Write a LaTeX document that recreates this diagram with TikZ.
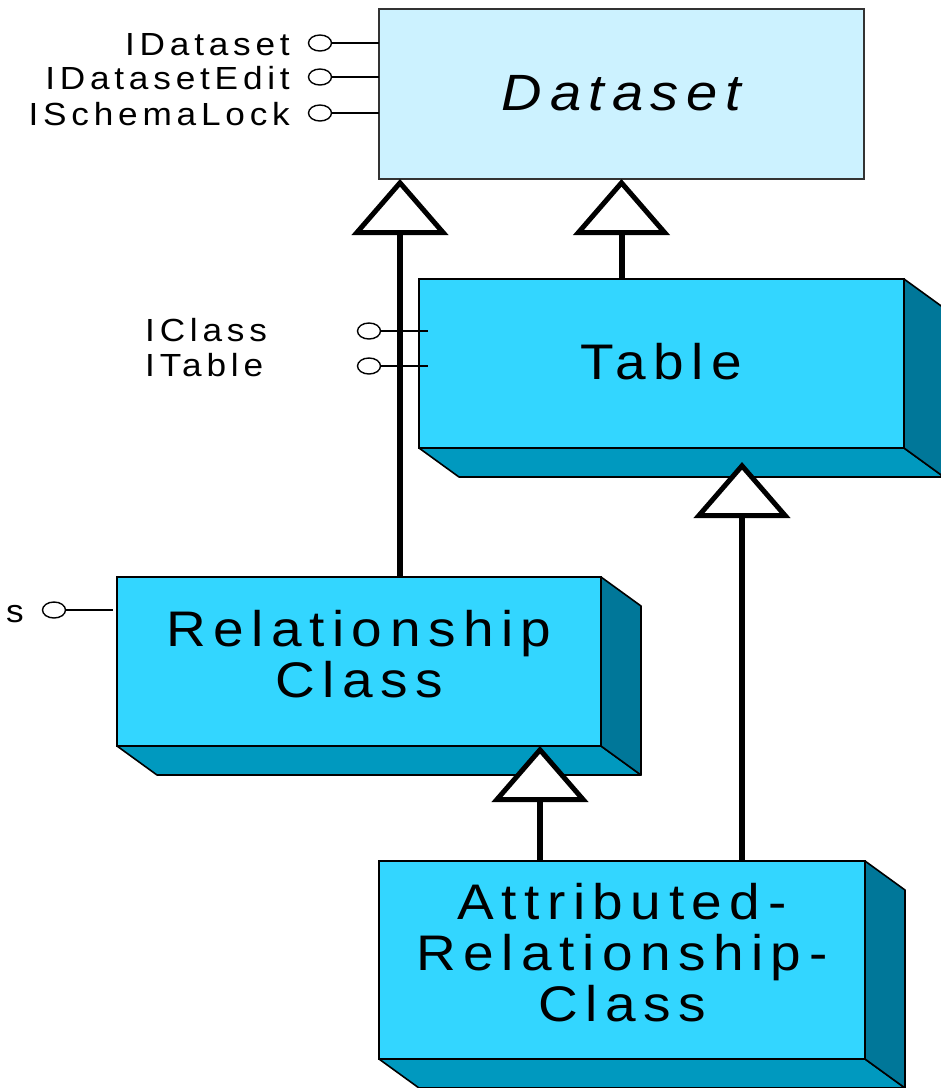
\documentclass[tikz,border=0pt]{standalone}
\usepackage{fontspec}
\setmainfont{Liberation Sans}[LetterSpace=15,FakeStretch=1.1]
\usetikzlibrary{arrows.meta,calc,shapes.geometric}
\definecolor{frontc}{HTML}{33D6FF}
\definecolor{bottomc}{HTML}{0099BF}
\definecolor{sidec}{HTML}{007799}
\definecolor{dsc}{HTML}{CCF2FF}
\newcommand\boxdepth[1]{%
  \filldraw[fill=bottomc, draw=black, line width=1.6pt, line join=round]
    (#1.south west) -- (#1.south east) -- ($(#1.south east)+(40,29)$) -- ($(#1.south west)+(40,29)$) -- cycle;
  \filldraw[fill=sidec, draw=black, line width=1.6pt, line join=round]
    (#1.north east) -- ($(#1.north east)+(40,29)$) -- ($(#1.south east)+(40,29)$) -- (#1.south east) -- cycle;}
\newcommand\uptext[2]{\raisebox{#1}{\begin{tabular}{@{}c@{}}#2\end{tabular}}}
\begin{document}
\begin{tikzpicture}[x=1pt,y=-1pt,
  cls/.style={draw=black, line width=1.6pt, fill=frontc, inner sep=0pt, outer sep=0pt,
    align=center, font=\fontsize{50}{50}\selectfont},
  lolly/.style={ellipse, draw=black, line width=1.4pt, fill=white, minimum width=23pt, minimum height=16pt, inner sep=0pt},
  lbl/.style={inner sep=0pt, font=\fontsize{32}{35}\selectfont},
  lline/.style={line width=1.4pt},
  gen/.style={line width=6pt, -{Triangle[length=56pt, width=96pt, fill=white, line width=5pt]}}]
\useasboundingbox (0,0) rectangle (941,1088);
% Dataset
\node[draw=black!80, line width=1.6pt, fill=dsc, minimum width=485pt, minimum height=170pt, inner sep=0pt, outer sep=0pt,
  font=\fontsize{51}{50}\selectfont\itshape] (dataset) at (621.5,94) {\raisebox{3pt}{Dataset}};
% Table
\node[cls, minimum width=485pt, minimum height=169pt] (table) at (661.5,363.5) {\raisebox{5pt}{Table}};
\boxdepth{table}
% Relationship Class
\node[cls, minimum width=484pt, minimum height=169pt] (rel) at (359,661.5) {\uptext{6pt}{Relationship\\Class}};
\boxdepth{rel}
% Attributed
\node[cls, minimum width=486pt, minimum height=198pt] (arc) at (622,960) {\uptext{6pt}{Attributed-\\Relationship-\\Class}};
\boxdepth{arc}
% generalization connectors
\coordinate (s1) at (400,0);
\coordinate (s3) at (742,0);
\coordinate (s4) at (540,0);
\coordinate (tabhit) at (0,462);
\draw[gen] (rel.north -| s1) -- (dataset.south -| s1);
\draw[gen] (table.north -| dataset.south) -- (dataset.south);
\draw[gen] (arc.north -| s3) -- (s3 |- tabhit);
\draw[gen] (arc.north -| s4) -- (rel.south -| s4);
% Dataset interfaces
\node[lolly] (c1) at (320,43) {};
\node[lolly] (c2) at (320,77) {};
\node[lolly] (c3) at (320,113) {};
\draw[lline] (c1) -- (dataset.west |- c1);
\draw[lline] (c2) -- (dataset.west |- c2);
\draw[lline] (c3) -- (dataset.west |- c3);
\node[lbl, anchor=base east] (l1) at (290,55) {IDataset};
\node[lbl, anchor=base east] (l2) at (290,89) {IDatasetEdit};
\node[lbl, anchor=base east] (l3) at (290,125) {ISchemaLock};
% Table interfaces
\node[lolly] (c4) at (369,331) {};
\node[lolly] (c5) at (369,366) {};
\coordinate (tin) at (428,0);
\draw[lline] (c4) -- (tin |- c4);
\draw[lline] (c5) -- (tin |- c5);
\node[lbl, anchor=base west] (l4) at (145,341) {IClass};
\node[lbl, anchor=base west] (l5) at (145,376) {ITable};
% Relationship interface
\node[lolly] (c6) at (54,610) {};
\coordinate (rin) at (113,0);
\draw[lline] (c6) -- (rin |- c6);
\node[lbl, anchor=base west] (l6) at (6,622) {s};
\end{tikzpicture}
\end{document}
